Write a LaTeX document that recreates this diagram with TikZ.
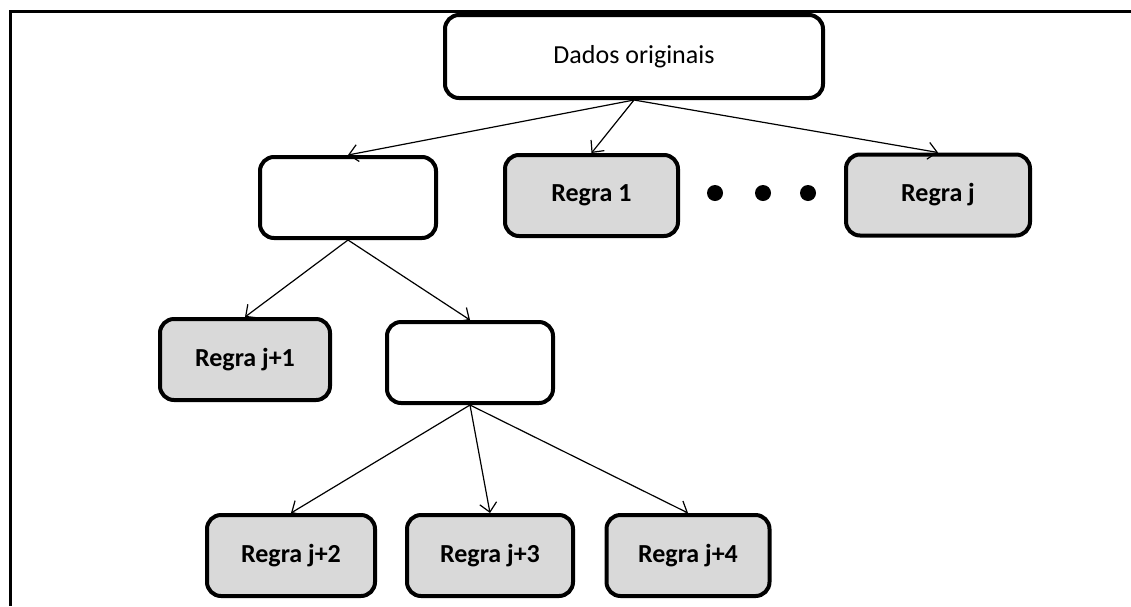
\documentclass[tikz,border=0pt]{standalone}
\usepackage{fontspec}
\setmainfont{Carlito}
\usetikzlibrary{arrows.meta}
\definecolor{boxgray}{HTML}{D9D9D9}
\begin{document}
\begin{tikzpicture}[x=1pt,y=-1pt,
  box/.style={draw=black, line width=4pt, rounded corners=14pt, minimum height=81pt, inner sep=0pt, fill=white},
  rulebox/.style={box, fill=boxgray, font=\fontsize{26}{30}\selectfont\bfseries},
  conn/.style={line width=1.2pt, -{Straight Barb[length=9pt,width=17pt,line width=1.2pt]}},
  dotnode/.style={circle, fill=black, inner sep=0pt, minimum size=16pt},
  frameline/.style={line width=3pt}]
\useasboundingbox (0,0) rectangle (1131,606);
% frame
\coordinate (fTR) at (1131,11);
\coordinate (fTL) at (10.5,11);
\coordinate (fBL) at (10.5,606);
\draw[frameline] (fTR) -- (fTL) -- (fBL);
% nodes
\node[box, minimum width=378pt, minimum height=83pt, font=\fontsize{26}{30}\selectfont] (dados) at (634,56.5) {Dados originais};
\node[box, minimum width=176pt] (na) at (348,197.5) {};
\node[rulebox, minimum width=173pt] (r1) at (591.5,195.5) {Regra 1};
\node[dotnode] (d1) at (715,193) {};
\node[dotnode] (d2) at (763,193) {};
\node[dotnode] (d3) at (808,193) {};
\node[rulebox, minimum width=184pt] (rj) at (938,195) {Regra j};
\node[rulebox, minimum width=170pt] (rj1) at (245,359.5) {Regra j+1};
\node[box, minimum width=166pt] (nb) at (470,362.5) {};
\node[rulebox, minimum width=168pt] (rj2) at (291,555.5) {Regra j+2};
\node[rulebox, minimum width=166pt] (rj3) at (490,555.5) {Regra j+3};
\node[rulebox, minimum width=163pt] (rj4) at (688,555.5) {Regra j+4};
% connectors
\draw[conn] (dados.south) -- (na.north);
\draw[conn] (dados.south) -- (r1.north);
\draw[conn] (dados.south) -- (rj.north);
\draw[conn] (na.south) -- (rj1.north);
\draw[conn] (na.south) -- (nb.north);
\draw[conn] (nb.south) -- (rj2.north);
\draw[conn] (nb.south) -- (rj3.north);
\draw[conn] (nb.south) -- (rj4.north);
\end{tikzpicture}
\end{document}
